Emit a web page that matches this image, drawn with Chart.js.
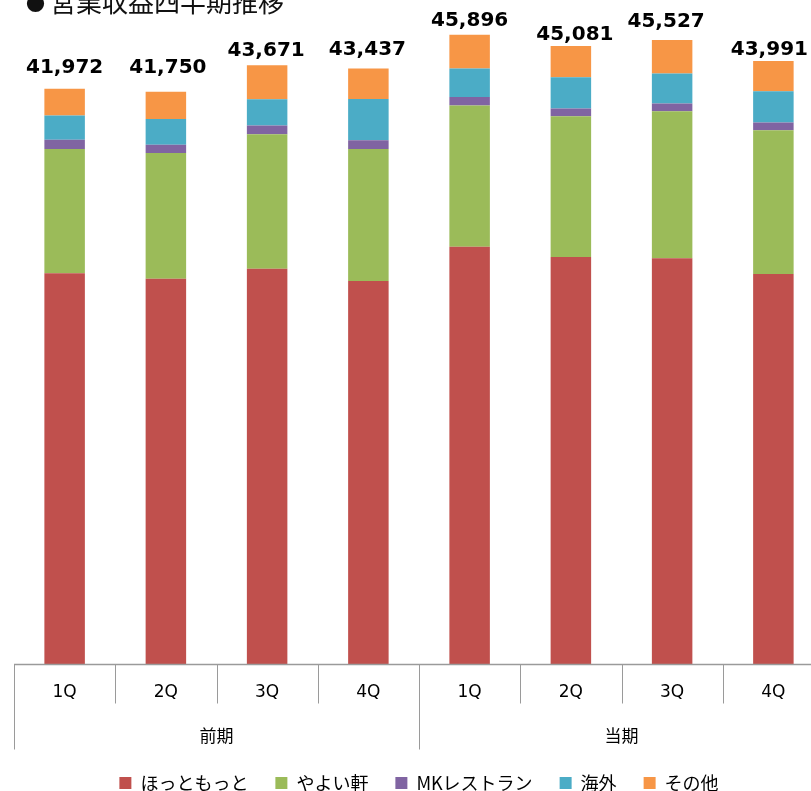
<!DOCTYPE html>
<html lang="ja">
<head>
<meta charset="utf-8">
<title>営業収益四半期推移</title>
<script src="https://cdn.jsdelivr.net/npm/chart.js@4.4.1/dist/chart.umd.min.js"></script>
<style>
    html, body { margin: 0; padding: 0; background: #fff; overflow: hidden; }
    #wrap { position: relative; width: 840px; height: 802px; }
</style>
</head>
<body>
<div id="wrap">
    <canvas id="revenueChart" width="840" height="802"></canvas>
</div>
<script>
// Data (units: million yen)
const quarters = ['1Q', '2Q', '3Q', '4Q', '1Q', '2Q', '3Q', '4Q'];
const periods = ['前期', '当期'];
const hottoMotto = [28499, 28105, 28835, 27937, 30441, 29689, 29594, 28448];
const yayoiken = [9074, 9176, 9811, 9636, 10293, 10271, 10731, 10490];
const mkRestaurant = [679, 606, 628, 635, 635, 555, 555, 555];
const overseas = [1752, 1876, 1927, 3015, 2066, 2292, 2190, 2292];
const others = [1968, 1987, 2470, 2214, 2461, 2274, 2457, 2206];
const totals = [41972, 41750, 43671, 43437, 45896, 45081, 45527, 43991];

// Manual nudges of the total labels (px), as in the original
const labelLift = [16, 19, 9, 14, 9, 6, 13, 6];
const labelShift = [0, 2, -1, -1, 0, 4, -6, -4];

document.addEventListener('DOMContentLoaded', function() {
    initRevenueChart();
});

// Title, drawn slightly above the canvas top like the cropped original
const titlePlugin = {
    id: 'titleText',
    afterDraw: function(chart) {
        const ctx = chart.ctx;
        ctx.save();
        ctx.fillStyle = '#111';
        ctx.textAlign = 'left';
        ctx.textBaseline = 'alphabetic';
        ctx.font = '19px "Noto Sans CJK JP"';
        ctx.fillText('●', 26, 11);
        ctx.font = '26px "Noto Sans CJK JP"';
        ctx.fillText('営業収益四半期推移', 50, 12);
        ctx.restore();
    }
};

// Total value above each stack
const totalsPlugin = {
    id: 'totalsLabels',
    afterDatasetsDraw: function(chart) {
        const ctx = chart.ctx;
        const x = chart.scales.x;
        const y = chart.scales.y;
        ctx.save();
        ctx.fillStyle = '#000';
        ctx.font = 'bold 20px "DejaVu Sans"';
        ctx.textAlign = 'center';
        ctx.textBaseline = 'alphabetic';
        totals.forEach(function(t, i) {
            const px = x.getPixelForValue(i) + labelShift[i];
            const py = y.getPixelForValue(t) - labelLift[i];
            ctx.fillText(t.toLocaleString('en-US'), px, py);
        });
        ctx.restore();
    }
};

// Two level category axis (quarter / period)
const groupAxisPlugin = {
    id: 'groupAxis',
    afterDraw: function(chart) {
        const ctx = chart.ctx;
        const x = chart.scales.x;
        const area = chart.chartArea;
        const base = Math.round(area.bottom) + 0.5;
        const n = quarters.length;
        const edges = [];
        for (let i = 0; i <= n; i++) {
            if (i === 0) edges.push(area.left);
            else if (i === n) edges.push(area.right);
            else edges.push((x.getPixelForValue(i - 1) + x.getPixelForValue(i)) / 2);
        }

        ctx.save();
        ctx.strokeStyle = '#9a9a9a';
        ctx.lineWidth = 1.3;
        ctx.beginPath();
        ctx.moveTo(area.left, base);
        ctx.lineTo(area.right, base);
        ctx.stroke();

        ctx.lineWidth = 1;
        edges.forEach(function(ex, i) {
            const len = (i % 4 === 0) ? 85 : 39;
            const lx = Math.round(ex) + 0.5;
            ctx.beginPath();
            ctx.moveTo(lx, base);
            ctx.lineTo(lx, base + len);
            ctx.stroke();
        });

        ctx.fillStyle = '#000';
        ctx.textAlign = 'center';
        ctx.textBaseline = 'middle';
        ctx.font = '17px "DejaVu Sans"';
        quarters.forEach(function(q, i) {
            ctx.fillText(q, x.getPixelForValue(i), base + 28);
        });

        ctx.font = '17px "Noto Sans CJK JP"';
        periods.forEach(function(p, g) {
            const cx = (edges[g * 4] + edges[g * 4 + 4]) / 2;
            ctx.fillText(p, cx, base + 71);
        });
        ctx.restore();
    }
};

function initRevenueChart() {
    const ctx = document.getElementById('revenueChart').getContext('2d');

    const series = [
        { label: 'ほっともっと', data: hottoMotto, color: '#C0504D' },
        { label: 'やよい軒', data: yayoiken, color: '#9BBB59' },
        { label: 'MKレストラン', data: mkRestaurant, color: '#8064A2' },
        { label: '海外', data: overseas, color: '#4BACC6' },
        { label: 'その他', data: others, color: '#F79646' }
    ];

    new Chart(ctx, {
        type: 'bar',
        data: {
            labels: quarters,
            datasets: series.map(function(s) {
                return {
                    label: s.label,
                    data: s.data,
                    backgroundColor: s.color,
                    borderWidth: 0,
                    categoryPercentage: 1,
                    barPercentage: 0.4
                };
            })
        },
        options: {
            responsive: false,
            animation: false,
            layout: {
                padding: { left: 14, right: 16, top: 6, bottom: 0 }
            },
            scales: {
                x: {
                    stacked: true,
                    grid: { display: false },
                    border: { display: false },
                    ticks: { display: false },
                    // room for the two level axis drawn by groupAxisPlugin
                    afterFit: function(scale) { scale.height = 83; }
                },
                y: { stacked: true, display: false, min: 0, max: 48000 }
            },
            plugins: {
                legend: {
                    position: 'bottom',
                    labels: {
                        boxWidth: 12,
                        boxHeight: 12,
                        padding: 27,
                        color: '#000',
                        font: { size: 18, family: '"Noto Sans CJK JP"' }
                    }
                },
                tooltip: { enabled: false }
            }
        },
        plugins: [titlePlugin, totalsPlugin, groupAxisPlugin]
    });
}
</script>
</body>
</html>
